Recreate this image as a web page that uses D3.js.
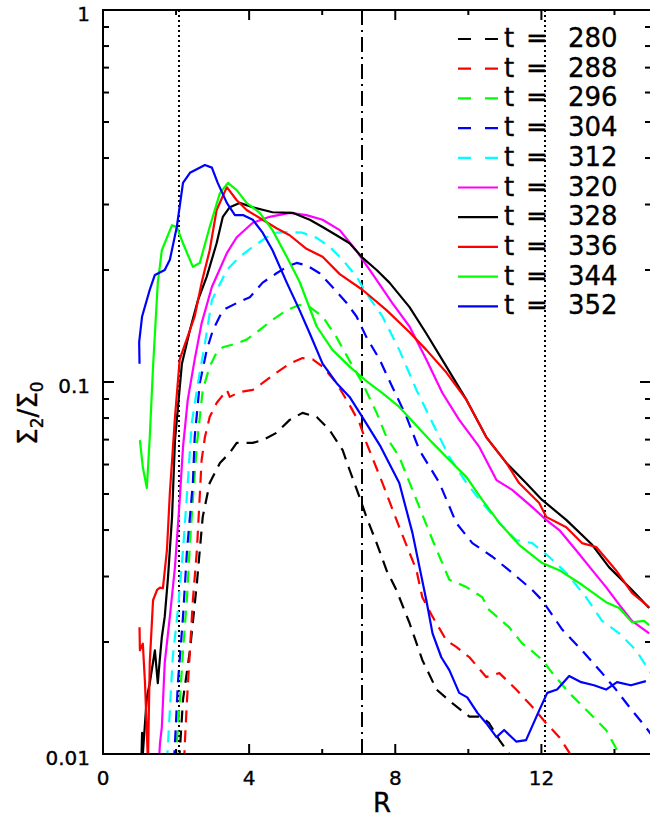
<!DOCTYPE html>
<html lang="en">
<head>
<meta charset="UTF-8" />
<title>Sigma2/Sigma0 vs R</title>
<script src="https://d3js.org/d3.v7.min.js"></script>
<style>
  html, body { margin: 0; padding: 0; background: #fff; }
  svg { display: block; font-family: "DejaVu Sans", sans-serif; }
  text { stroke: #000; stroke-width: 0.35px; }
</style>
</head>
<body>
<svg width="650" height="819"></svg>
<script>
// ---- data: [R, Sigma2/Sigma0] ----
const t280 = [[2.05,0.0095],[2.10,0.0101],[2.19,0.0140],[2.38,0.0190],[2.57,0.0288],[2.73,0.0434],[2.92,0.0535],[3.20,0.0606],[3.47,0.0645],[3.66,0.0686],[4.10,0.0686],[4.37,0.0698],[4.75,0.073],[5.11,0.0791],[5.46,0.0826],[5.85,0.0805],[6.20,0.0743],[6.56,0.0656],[6.75,0.058],[7.02,0.0491],[7.21,0.0434],[7.49,0.0369],[7.76,0.0312],[8.03,0.0276],[8.39,0.0225],[8.74,0.0179],[9.13,0.0149],[9.56,0.0137],[10.03,0.0126],[10.36,0.0126],[10.57,0.0121],[10.85,0.0109],[11.12,0.0100],[11.2,0.0095]];
const t288 = [[2.22,0.0095],[2.24,0.0107],[2.30,0.0140],[2.38,0.0190],[2.46,0.0259],[2.57,0.0353],[2.70,0.0617],[2.79,0.0711],[2.92,0.0805],[3.11,0.0878],[3.39,0.0952],[3.47,0.0912],[3.74,0.094],[4.10,0.0952],[4.37,0.0994],[4.75,0.106],[5.11,0.112],[5.46,0.116],[5.74,0.115],[6.01,0.110],[6.39,0.0994],[6.75,0.0867],[7.02,0.0776],[7.21,0.0686],[7.65,0.0535],[8.11,0.0407],[8.58,0.0312],[8.74,0.0264],[9.02,0.0234],[9.40,0.0202],[9.67,0.0194],[10.03,0.0182],[10.49,0.0161],[10.85,0.0165],[11.31,0.0149],[11.75,0.0134],[12.13,0.0121],[12.49,0.0111],[12.76,0.0101],[12.85,0.0095]];
const t296 = [[1.99,0.0095],[2.02,0.0107],[2.10,0.0137],[2.19,0.0190],[2.30,0.0264],[2.38,0.0369],[2.46,0.0482],[2.57,0.068],[2.73,0.0952],[2.92,0.110],[3.11,0.120],[3.28,0.124],[3.66,0.127],[3.93,0.130],[4.29,0.138],[4.64,0.147],[5.03,0.156],[5.38,0.161],[5.66,0.159],[6.01,0.150],[6.39,0.132],[6.75,0.114],[7.10,0.0994],[7.49,0.0826],[7.76,0.0711],[8.11,0.0629],[8.58,0.0482],[9.02,0.0376],[9.48,0.0294],[9.95,0.0281],[10.38,0.0264],[10.57,0.0244],[11.12,0.0219],[11.48,0.0198],[11.72,0.0190],[12.02,0.0179],[12.30,0.0165],[12.76,0.0146],[13.31,0.0129],[13.77,0.0116],[14.13,0.0100],[14.2,0.0095]];
const t304 = [[1.94,0.0095],[1.97,0.0107],[2.05,0.0155],[2.19,0.0234],[2.30,0.0353],[2.46,0.0535],[2.51,0.0711],[2.65,0.0994],[2.84,0.122],[3.01,0.138],[3.28,0.156],[3.66,0.163],[4.02,0.169],[4.37,0.185],[4.75,0.196],[5.03,0.204],[5.30,0.209],[5.57,0.206],[5.93,0.196],[6.28,0.180],[6.67,0.163],[6.94,0.150],[7.21,0.132],[7.57,0.115],[7.92,0.097],[8.31,0.0805],[8.66,0.0656],[9.21,0.0535],[9.67,0.0418],[10.11,0.0369],[10.66,0.0339],[11.20,0.0307],[11.75,0.0276],[12.02,0.0259],[12.57,0.0216],[13.11,0.0190],[13.66,0.0165],[14.04,0.0149],[14.48,0.0131],[14.86,0.0118],[15.0,0.0113]];
const t312 = [[1.75,0.0095],[1.78,0.0107],[1.83,0.0131],[1.91,0.0182],[2.05,0.0244],[2.19,0.0353],[2.32,0.0535],[2.43,0.0776],[2.60,0.0994],[2.79,0.127],[2.98,0.166],[3.39,0.200],[3.74,0.217],[4.10,0.231],[4.48,0.245],[4.75,0.252],[5.11,0.253],[5.46,0.252],[5.85,0.244],[6.20,0.231],[6.56,0.213],[6.94,0.192],[7.21,0.173],[7.65,0.150],[8.11,0.122],[8.58,0.0952],[9.02,0.0776],[9.48,0.0629],[9.95,0.0535],[10.38,0.0473],[10.85,0.0418],[11.31,0.0376],[11.75,0.0369],[12.21,0.0339],[12.68,0.0307],[13.22,0.0264],[13.66,0.0228],[14.13,0.0211],[14.59,0.0190],[14.89,0.0171],[15.0,0.0165]];
const t320 = [[1.53,0.0095],[1.56,0.0107],[1.61,0.0118],[1.69,0.0176],[1.83,0.0234],[1.97,0.0318],[2.10,0.0482],[2.19,0.0669],[2.32,0.0895],[2.51,0.115],[2.70,0.144],[2.98,0.180],[3.39,0.222],[3.66,0.245],[4.10,0.268],[4.56,0.278],[5.11,0.285],[5.57,0.281],[6.01,0.273],[6.48,0.256],[6.94,0.225],[7.38,0.195],[7.92,0.163],[8.39,0.141],[8.85,0.115],[9.29,0.0934],[9.75,0.0791],[10.30,0.0669],[10.77,0.0545],[11.20,0.0513],[11.75,0.0461],[12.13,0.0426],[12.49,0.040],[12.95,0.0353],[13.39,0.0312],[13.77,0.0281],[14.13,0.0252],[14.48,0.0228],[14.95,0.0211]];
const t328 = [[1.05,0.0095],[1.07,0.0114],[1.09,0.0100],[1.20,0.0142],[1.28,0.0155],[1.42,0.0190],[1.50,0.0155],[1.56,0.0182],[1.61,0.0206],[1.69,0.0234],[1.78,0.0299],[1.89,0.0434],[1.97,0.0698],[2.16,0.112],[2.38,0.138],[2.60,0.166],[2.84,0.192],[3.11,0.236],[3.28,0.278],[3.47,0.295],[3.74,0.303],[4.10,0.295],[4.64,0.286],[5.19,0.285],[5.66,0.273],[6.01,0.261],[6.39,0.248],[6.75,0.236],[7.10,0.216],[7.49,0.200],[7.84,0.185],[8.39,0.159],[8.85,0.135],[9.40,0.110],[9.95,0.0895],[10.49,0.0711],[11.04,0.0606],[11.58,0.0535],[12.02,0.0482],[12.68,0.0426],[13.39,0.0365],[13.85,0.0318],[14.48,0.0276],[14.95,0.0247]];
const t336 = [[1.0,0.0219],[1.01,0.0190],[1.09,0.0198],[1.15,0.0155],[1.23,0.0095],[1.28,0.0176],[1.37,0.0259],[1.48,0.0276],[1.56,0.0280],[1.64,0.0279],[1.75,0.0353],[1.83,0.0503],[1.91,0.0656],[1.97,0.0805],[2.10,0.115],[2.24,0.126],[2.51,0.150],[2.70,0.185],[2.92,0.226],[3.11,0.290],[3.39,0.334],[3.66,0.308],[3.93,0.290],[4.37,0.273],[4.75,0.259],[5.11,0.248],[5.57,0.228],[6.01,0.217],[6.48,0.195],[7.10,0.177],[7.76,0.156],[8.39,0.136],[8.85,0.122],[9.40,0.106],[9.95,0.0895],[10.49,0.0711],[11.04,0.0606],[11.39,0.0535],[11.94,0.0473],[12.13,0.0434],[12.68,0.0407],[13.11,0.0369],[13.50,0.0360],[14.04,0.0312],[14.48,0.0271],[14.95,0.0248]];
const t344 = [[1.01,0.0698],[1.09,0.059],[1.20,0.0519],[1.28,0.0711],[1.37,0.110],[1.50,0.185],[1.61,0.226],[1.89,0.264],[2.02,0.261],[2.19,0.236],[2.46,0.204],[2.65,0.209],[2.92,0.261],[3.20,0.322],[3.42,0.343],[3.66,0.328],[3.93,0.303],[4.29,0.285],[4.64,0.256],[5.03,0.217],[5.38,0.186],[5.85,0.141],[6.28,0.122],[6.75,0.110],[7.21,0.1006],[7.65,0.0934],[8.11,0.0857],[9.02,0.0686],[9.48,0.0617],[9.95,0.0555],[10.38,0.0482],[10.85,0.0418],[11.39,0.0365],[12.02,0.0326],[12.49,0.0312],[13.11,0.0285],[13.77,0.0256],[14.13,0.0247],[14.48,0.0226],[14.81,0.0228],[14.95,0.0222]];
const t352 = [[1.0,0.112],[0.99,0.128],[1.07,0.150],[1.28,0.177],[1.42,0.194],[1.69,0.200],[1.83,0.213],[2.02,0.261],[2.19,0.343],[2.38,0.365],[2.79,0.383],[2.98,0.377],[3.14,0.343],[3.39,0.303],[3.61,0.281],[3.83,0.281],[4.10,0.273],[4.37,0.252],[4.64,0.226],[5.03,0.185],[5.38,0.156],[5.66,0.135],[6.01,0.112],[6.39,0.0994],[6.75,0.0912],[7.10,0.0805],[7.60,0.067],[8.11,0.0535],[8.47,0.0393],[8.85,0.0259],[9.02,0.0211],[9.26,0.0182],[9.48,0.0168],[9.75,0.0146],[9.97,0.0142],[10.25,0.0129],[10.49,0.0121],[10.77,0.0111],[10.98,0.0116],[11.31,0.0108],[11.58,0.0109],[11.94,0.0131],[12.16,0.0146],[12.43,0.0149],[12.76,0.0162],[13.09,0.0156],[13.44,0.0153],[13.77,0.0149],[14.07,0.0156],[14.45,0.0153],[14.86,0.0157]];

const times = [280, 288, 296, 304, 312, 320, 328, 336, 344, 352];
const seriesData = [t280, t288, t296, t304, t312, t320, t328, t336, t344, t352];
const colors = ["#000000", "#ff0000", "#00ff00", "#0000ff", "#00ffff", "#ff00ff", "#000000", "#ff0000", "#00ff00", "#0000ff"];
const dashed = [true, true, true, true, true, false, false, false, false, false];

const dottedR = [2.08, 12.1];   // dotted verticals
const dashDotR = [7.08];        // dash-dot vertical
const xMajor = [0, 4, 8, 12];
const xMinor = [2, 6, 10, 14];
const yLabels = [0.01, 0.1, 1];

// ---- layout ----
const svg = d3.select("svg");
const mLeft = 103, mRight = 651, mTop = 10, mBottom = 754;

const x = d3.scaleLinear().domain([0, 15]).range([mLeft, mRight]);
const y = d3.scaleLog().domain([0.01, 1]).range([mBottom, mTop]);

svg.append("defs").append("clipPath").attr("id", "plotClip")
  .append("rect").attr("x", mLeft).attr("y", mTop)
  .attr("width", mRight - mLeft).attr("height", mBottom - mTop);

// reference verticals (snapped to whole pixels so the dots stay crisp)
const vg = svg.append("g").attr("stroke", "#000").attr("stroke-width", 2);
vg.selectAll("line.dot").data(dottedR).join("line")
  .attr("x1", d => Math.round(x(d))).attr("x2", d => Math.round(x(d)))
  .attr("y1", mTop).attr("y2", mBottom)
  .attr("stroke-dasharray", "2,3");
vg.selectAll("line.dd").data(dashDotR).join("line")
  .attr("x1", d => Math.round(x(d))).attr("x2", d => Math.round(x(d)))
  .attr("y1", mTop).attr("y2", mBottom)
  .attr("stroke-dasharray", "15,5,2,5");

// curves
const line = d3.line().x(d => x(d[0])).y(d => y(d[1]));
svg.append("g").attr("clip-path", "url(#plotClip)")
  .selectAll("path").data(seriesData).join("path")
  .attr("d", line)
  .attr("fill", "none")
  .attr("stroke", (d, i) => colors[i])
  .attr("stroke-width", 2.2)
  .attr("stroke-linejoin", "round")
  .attr("stroke-dasharray", (d, i) => dashed[i] ? "12,8" : null);

// frame and ticks
const ax = svg.append("g").attr("stroke", "#000").attr("stroke-width", 2);
ax.append("rect").attr("x", mLeft).attr("y", mTop)
  .attr("width", mRight - mLeft).attr("height", mBottom - mTop).attr("fill", "none");

const xTicks = xMajor.map(v => ({ v, len: 10 })).concat(xMinor.map(v => ({ v, len: 5 })));
ax.selectAll("line.xb").data(xTicks).join("line")
  .attr("x1", d => x(d.v)).attr("x2", d => x(d.v))
  .attr("y1", mBottom).attr("y2", d => mBottom - d.len);
ax.selectAll("line.xt").data(xTicks).join("line")
  .attr("x1", d => x(d.v)).attr("x2", d => x(d.v))
  .attr("y1", mTop).attr("y2", d => mTop + d.len);

const yTicks = [];
[0.01, 0.1].forEach(dec => {
  for (let k = 1; k <= 9; k++) yTicks.push({ v: dec * k, len: k === 1 ? 11 : 6 });
});
yTicks.push({ v: 1, len: 11 });
ax.selectAll("line.yl").data(yTicks).join("line")
  .attr("x1", mLeft).attr("x2", d => mLeft + d.len)
  .attr("y1", d => y(d.v)).attr("y2", d => y(d.v));
ax.selectAll("line.yr").data(yTicks).join("line")
  .attr("x1", mRight).attr("x2", d => mRight - d.len)
  .attr("y1", d => y(d.v)).attr("y2", d => y(d.v));

// tick labels
svg.append("g").attr("font-size", 20).attr("text-anchor", "middle")
  .selectAll("text").data(xMajor).join("text")
  .attr("x", d => x(d)).attr("y", mBottom + 31)
  .text(d => d);

svg.append("g").attr("font-size", 20).attr("text-anchor", "end")
  .selectAll("text").data(yLabels).join("text")
  .attr("x", 90).attr("y", d => y(d) + 11)
  .text(d => d);

// axis titles
svg.append("text").attr("x", 382).attr("y", 812)
  .attr("text-anchor", "middle").attr("font-size", 26).text("R");

const yt = svg.append("text")
  .attr("transform", "translate(37,413) rotate(-90)")
  .attr("text-anchor", "middle").attr("font-size", 26);
yt.append("tspan").text("Σ");
yt.append("tspan").attr("font-size", 17).attr("dy", 6).text("2");
yt.append("tspan").attr("dy", -6).text("/Σ");
yt.append("tspan").attr("font-size", 17).attr("dy", 6).text("0");

// legend
const leg = svg.append("g").selectAll("g").data(times).join("g")
  .attr("transform", (d, i) => `translate(0,${39 + i * 29.7})`);
leg.append("line")
  .attr("x1", 458).attr("x2", 498).attr("y1", 0).attr("y2", 0)
  .attr("stroke", (d, i) => colors[i]).attr("stroke-width", 2.2)
  .attr("stroke-dasharray", (d, i) => dashed[i] ? "13,14" : null);
leg.append("text").attr("x", 504).attr("y", 8).attr("font-size", 26).text("t");
leg.append("text").attr("x", 537).attr("y", 8).attr("font-size", 26)
  .attr("text-anchor", "middle").text("=");
leg.append("text").attr("x", 568).attr("y", 8).attr("font-size", 26).text(d => d);
</script>
</body>
</html>
